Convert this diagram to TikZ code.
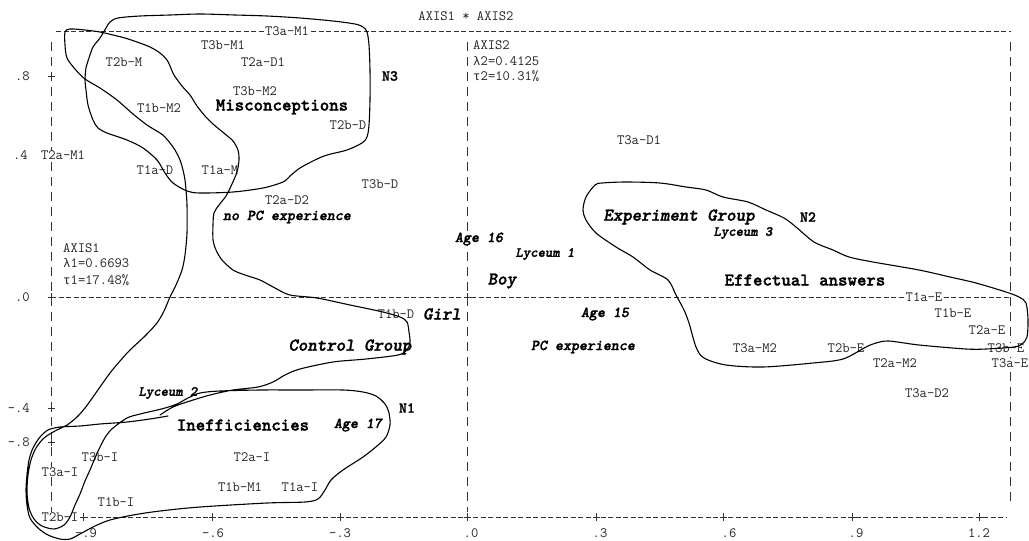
\documentclass[tikz,border=0pt]{standalone}
\usepackage{fontspec}
\newfontfamily\grk{Liberation Mono}
\newfontfamily\lmb[FakeBold=1.6,ItalicFont=lmmonolt10-boldoblique.otf]{lmmonolt10-bold.otf}
\begin{document}
\begin{tikzpicture}[x=1pt,y=-1pt,
 lbl/.style={font=\ttfamily\fontsize{14.2}{16}\selectfont, text=black!85, fill=white, inner sep=0pt},
 big/.style={font=\lmb\fontsize{18}{20}\selectfont, fill=white, inner sep=0pt},
 bigit/.style={font=\lmb\itshape\fontsize{18}{20}\selectfont, fill=white, inner sep=0pt},
 midit/.style={font=\lmb\itshape\fontsize{15.2}{17}\selectfont, fill=white, inner sep=0pt},
 lyc/.style={font=\lmb\itshape\fontsize{14}{16}\selectfont, fill=white, inner sep=0pt},
 nlbl/.style={font=\lmb\fontsize{15.2}{17}\selectfont, fill=white, inner sep=0pt},
 hax/.style={draw=black!80, line width=0.7pt, dash pattern=on 5pt off 2.5pt},
 vax/.style={draw=black!80, line width=0.7pt, dash pattern=on 9pt off 6pt},
 tickmark/.style={draw=black!80, line width=0.7pt},
 contour/.style={draw=black, line width=1.1pt, line join=round, line cap=round}
]
\useasboundingbox (0,0) rectangle (1029,541);
\fill[white] (0,0) rectangle (1029,541);

% axes (ASCII-style frame)
\draw[hax] (56,31) -- (1011,31);
\draw[hax] (51,297) -- (1010,297);
\draw[hax] (83,517) -- (1006,517);
\draw[vax] (51,42) -- (51,512);
\draw[vax] (467,42) -- (467,512);
\draw[vax] (1010,42) -- (1010,505);
\foreach \x in {83,212,340,467,596,723,852,979}
  \draw[tickmark] (\x-3.5,517) -- (\x+3.5,517) (\x,513) -- (\x,521);
\foreach \y in {76,297,408,442}
  \draw[tickmark] (47.5,\y) -- (54.5,\y) (51,\y-4) -- (51,\y+4);
\draw[tickmark] (463.5,297) -- (470.5,297) (467,293) -- (467,301);

% axis labels
\node[lbl] (title) at (466,16) {AXIS1 * AXIS2};
\node[lbl,anchor=west] (ax2) at (473,45) {AXIS2};
\node[lbl,anchor=west] (lam2) at (473,61) {{\grk\fontsize{12.5}{14}\selectfont λ}2=0.4125};
\node[lbl,anchor=west] (tau2) at (473,76) {{\grk\fontsize{12.5}{14}\selectfont τ}2=10.31\%};
\node[lbl,anchor=west] (ax1) at (63,248) {AXIS1};
\node[lbl,anchor=west] (lam1) at (63,263) {{\grk\fontsize{12.5}{14}\selectfont λ}1=0.6693};
\node[lbl,anchor=west] (tau1) at (63,280) {{\grk\fontsize{12.5}{14}\selectfont τ}1=17.48\%};
\node[lbl,anchor=east] (y8) at (30,76) {.8};
\node[lbl,anchor=east] (y4) at (28,155) {.4};
\node[lbl,anchor=east] (y0) at (30,297) {.0};
\node[lbl,anchor=east] (ym4) at (30,408) {-.4};
\node[lbl,anchor=east] (ym8) at (30,442) {-.8};
\node[lbl] (xm9) at (86,533) {-.9};
\node[lbl] (xm6) at (213,533) {-.6};
\node[lbl] (xm3) at (340,533) {-.3};
\node[lbl] (x0) at (471,533) {.0};
\node[lbl] (x3) at (600,533) {.3};
\node[lbl] (x6) at (729,533) {.6};
\node[lbl] (x9) at (856,533) {.9};
\node[lbl] (x12) at (979,533) {1.2};

% point labels
\node[lbl] (p1) at (287,31) {T3a-M1};
\node[lbl] (p2) at (223,45) {T3b-M1};
\node[lbl] (p3) at (124,62) {T2b-M};
\node[lbl] (p4) at (263,62) {T2a-D1};
\node[lbl] (p5) at (255,91) {T3b-M2};
\node[lbl] (p6) at (159,108) {T1b-M2};
\node[lbl] (p7) at (348,125) {T2b-D};
\node[lbl] (p8) at (63,155) {T2a-M1};
\node[lbl] (p9) at (155,170) {T1a-D};
\node[lbl] (p10) at (220,170) {T1a-M};
\node[lbl] (p11) at (380,184) {T3b-D};
\node[lbl] (p12) at (287,200) {T2a-D2};
\node[lbl] (p13) at (639,140) {T3a-D1};
\node[lbl] (p14) at (396,314) {T1b-D};
\node[lbl] (p15) at (924,297) {T1a-E};
\node[lbl] (p16) at (953,313) {T1b-E};
\node[lbl] (p17) at (987,330) {T2a-E};
\node[lbl] (p18) at (755,348) {T3a-M2};
\node[lbl] (p19) at (846,348) {T2b-E};
\node[lbl] (p20) at (1006,348) {T3b-E};
\node[lbl] (p21) at (895,363) {T2a-M2};
\node[lbl] (p22) at (1010,363) {T3a-E};
\node[lbl] (p23) at (927,393) {T3a-D2};
\node[lbl] (p24) at (100,457) {T3b-I};
\node[lbl] (p25) at (252,457) {T2a-I};
\node[lbl] (p26) at (60,472) {T3a-I};
\node[lbl] (p27) at (240,487) {T1b-M1};
\node[lbl] (p28) at (300,487) {T1a-I};
\node[lbl] (p29) at (116,502) {T1b-I};
\node[lbl] (p30) at (60,517) {T2b-I};

% factor labels
\node[big] (misc) at (282,107) {Misconceptions};
\node[big] (eff) at (805,280) {Effectual answers};
\node[big] (ineff) at (243,425) {Inefficiencies};
\node[bigit] (ctrl) at (350,347) {Control Group};
\node[bigit] (expg) at (679,217) {Experiment Group};
\node[bigit] (boy) at (502,281) {Boy};
\node[bigit] (girl) at (442,314) {Girl};
\node[midit] (nopc) at (287,217) {no PC experience};
\node[midit] (pc) at (583,347) {PC experience};
\node[midit] (a16) at (479,239) {Age 16};
\node[midit] (a15) at (605,314) {Age 15};
\node[midit] (a17) at (358,425) {Age 17};
\node[lyc] (ly1) at (545,254) {Lyceum 1};
\node[lyc] (ly2) at (168,393) {Lyceum 2};
\node[lyc] (ly3) at (743,233) {Lyceum 3};
\node[nlbl] (n1) at (407,408) {N1};
\node[nlbl] (n2) at (808,217) {N2};
\node[nlbl] (n3) at (390,76) {N3};

% hand-drawn contours
\draw[contour] plot[smooth, tension=0.5] coordinates {
(168,416) (150,419) (127,422) (100,424) (80,426) (60,427) (48,430) (40,437) (33,448) (29,460) (27,475) (26,490) (27,505) (30,518) (38,528) (48,535) (60,539) (70,539) (80,534) (95,526) (110,520) (133,515) (160,511) (200,507) (267,503) (305,502) (318,499) (325,490) (331,480) (343,470) (363,457) (377,446) (386,437) (390,425) (389,413) (385,404) (376,396) (363,392) (343,390) (300,390) (260,390) (220,391) (200,393) (188,398) (177,404) (165,408) (153,411) (140,414) (127,418) (113,428) (106,436) (100,447) (95,458) (90,470) (85,481) (80,494) (75,505) (70,517) (64,525) (54,529) (42,526) (34,519) (29,508) (27,492) (28,475) (31,460) (36,448) (44,438) (55,431) (67,425) (77,417) (85,408) (93,397) (100,387) (110,373) (120,361) (130,350) (145,336) (157,323) (164,311) (170,297) (176,285) (182,270) (185,255) (187,233) (187,205) (186,190) (185,180) (183,170) (180,160) (175,150) (170,143) (165,137) (160,133) (147,125) (133,114) (117,100) (100,88) (85,79) (75,69) (67,58) (65,45) (65,32) (70,29) (85,30) (100,32) (113,35) (125,38) (137,42) (150,47) (160,53) (167,60) (170,66) (174,75) (182,86) (190,95) (197,106) (205,116) (213,124) (225,134) (233,141) (238,150) (239,160) (237,172) (232,184) (226,196) (219,205) (214,213) (213,225) (213,240) (216,250) (222,260) (233,270) (245,275) (260,280) (275,288) (290,295) (317,298) (350,305) (383,312) (400,317) (407,322) (409,332) (410,342) (407,350) (398,355) (366,359) (333,362) (300,369) (285,375) (273,382) (258,387) (233,390) (210,395) (190,401) (173,407) (160,415)};

\draw[contour] plot[smooth cycle, tension=0.5] coordinates {
(106,28) (110,22) (118,18) (140,16) (170,15) (200,14) (235,15) (267,16) (300,18) (333,21) (355,24) (363,27) (367,32) (369,45) (370,70) (370,100) (369,125) (367,137) (362,143) (347,150) (327,155) (315,160) (300,168) (290,176) (283,182) (263,188) (233,192) (200,193) (187,191) (173,183) (165,173) (157,160) (143,148) (127,140) (107,133) (98,128) (93,120) (88,105) (86,90) (85,80) (86,68) (89,58) (93,47) (100,38)};

\draw[contour] plot[smooth cycle, tension=0.5] coordinates {
(595,185) (602,183) (626,182) (660,183) (686,187) (706,190) (723,197) (748,202) (766,210) (784,218) (796,227) (814,242) (833,250) (849,257) (873,262) (919,270) (950,277) (976,283) (1006,292) (1019,297) (1026,303) (1028,320) (1027,337) (1022,344) (1014,347) (986,349) (966,349) (919,345) (889,341) (876,343) (866,347) (843,359) (813,363) (763,367) (726,365) (704,358) (696,347) (689,323) (684,310) (676,295) (668,280) (650,270) (633,257) (616,247) (596,233) (586,220) (583,210) (586,197)};
\end{tikzpicture}
\end{document}
